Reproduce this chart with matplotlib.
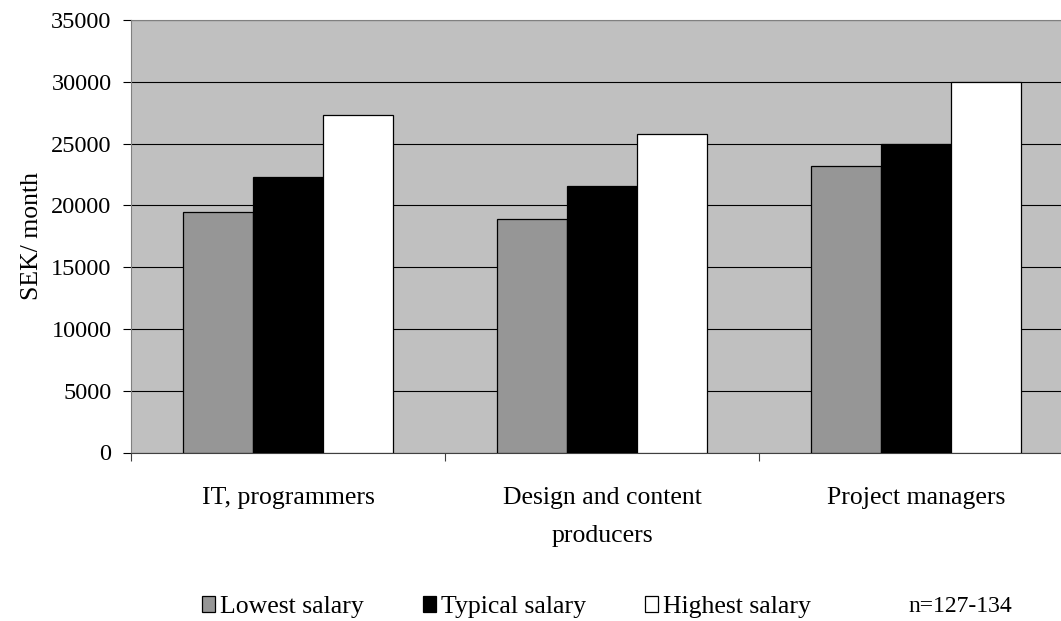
import matplotlib
matplotlib.use("Agg")
import matplotlib.pyplot as plt
import numpy as np
from matplotlib.patches import Patch

plt.rcParams['font.family'] = ['Liberation Serif', 'DejaVu Serif']

# data
categories = ["IT, programmers", "Design and content\nproducers", "Project managers"]
series = ["Lowest salary", "Typical salary", "Highest salary"]
lowest = [19500, 18900, 23200]
typical = [22300, 21600, 25000]
highest = [27300, 25800, 30000]
colors = ["#969696", "#000000", "#ffffff"]
note = "n=127-134"

fig = plt.figure(figsize=(10.61, 6.21), dpi=100)
ax = fig.add_axes([131 / 1061, 1 - 452.5 / 621, 942 / 1061, 432.5 / 621])
ax.set_facecolor("#c0c0c0")

x = np.arange(len(categories))
w = 0.223
for j, (vals, c) in enumerate(zip([lowest, typical, highest], colors)):
    ax.bar(x + (j - 1) * w, vals, w, color=c, edgecolor="black", linewidth=0.9,
           zorder=3, label=series[j])

ax.set_xlim(-0.5, 2.5)
ax.set_ylim(0, 35000)
ax.set_yticks(np.arange(0, 35001, 5000))
ax.yaxis.grid(True, color="black", linewidth=0.8, zorder=1)
ax.set_axisbelow(True)

# category labels centered, tick marks at boundaries
ax.set_xticks(x)
ax.set_xticklabels(categories, fontsize=18.5, linespacing=1.9)
ax.tick_params(axis="x", length=0, pad=25)
ax.set_xticks([-0.5, 0.5, 1.5], minor=True)
ax.tick_params(axis="x", which="minor", length=6, width=0.8, color="#404040")
ax.tick_params(axis="y", length=6, width=0.8, labelsize=17.5, pad=8, color="black")

for s in ["top", "left"]:
    ax.spines[s].set_color("#808080")
ax.spines["right"].set_visible(False)
ax.spines["bottom"].set_color("#404040")

ax.set_ylabel("SEK/ month", fontsize=18.5, labelpad=6)

handles = [Patch(facecolor=c, edgecolor="black", linewidth=0.9) for c in colors]
fig.legend(handles, series, loc="center left", bbox_to_anchor=(179 / 1061, 1 - 607 / 621),
           ncol=3, frameon=False, fontsize=18.5, handlelength=0.5, handleheight=0.55,
           handletextpad=0.2, columnspacing=2.3)
fig.text(908 / 1061, 1 - 607 / 621, note, fontsize=17, va="center", ha="left")

fig.savefig("out.png", dpi=100)
